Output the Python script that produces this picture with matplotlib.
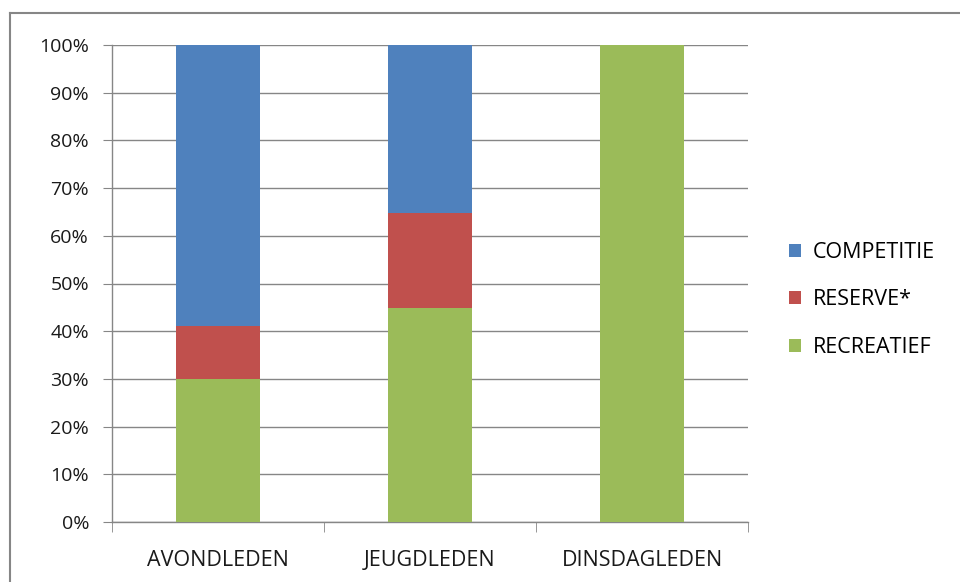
import matplotlib
matplotlib.use('Agg')
import matplotlib.pyplot as plt
import numpy as np
from matplotlib.lines import Line2D

categories = ['AVONDLEDEN', 'JEUGDLEDEN', 'DINSDAGLEDEN']
recreatief = [30.0, 44.8, 100.0]
reserve = [11.0, 19.9, 0.0]
competitie = [59.0, 35.3, 0.0]
yticks = [0, 10, 20, 30, 40, 50, 60, 70, 80, 90, 100]

plt.rcParams['font.family'] = ['Open Sans', 'DejaVu Sans']

fig = plt.figure(figsize=(9.6, 5.82), dpi=100)
ax = fig.add_axes([112 / 960, 1 - 522 / 582, (748 - 112) / 960, (522 - 45) / 582])

x = np.arange(len(categories))
w = 0.4
rec = np.array(recreatief)
res = np.array(reserve)
com = np.array(competitie)
ax.bar(x, rec, w, color='#9BBB59', label='RECREATIEF', zorder=3)
ax.bar(x, res, w, bottom=rec, color='#C0504D', label='RESERVE*', zorder=3)
ax.bar(x, com, w, bottom=rec + res, color='#4F81BD', label='COMPETITIE', zorder=3)

fs = 15.5
ax.set_xlim(-0.5, 2.5)
ax.set_ylim(0, 100)
ax.set_yticks(yticks)
ax.set_yticklabels([f'{v}%' for v in yticks], fontsize=14, color='#1a1a1a')
ax.set_xticks(x)
ax.set_xticklabels(categories, fontsize=fs, color='#1a1a1a')
ax.tick_params(axis='x', length=0, pad=20)
ax.set_xticks([-0.5, 0.5, 1.5, 2.5], minor=True)
ax.tick_params(axis='x', which='minor', length=7, color='#868686', direction='out')
ax.tick_params(axis='y', length=6.5, color='#868686', direction='out', pad=10)
ax.grid(axis='y', color='#868686', linewidth=1, zorder=0)
for s in ['top', 'right']:
    ax.spines[s].set_visible(False)
for s in ['left', 'bottom']:
    ax.spines[s].set_color('#868686')
    ax.spines[s].set_linewidth(1)

handles, labels = ax.get_legend_handles_labels()
leg = ax.legend(handles[::-1], labels[::-1], loc='center left', bbox_to_anchor=(789 / 960, 1 - 300 / 582),
                bbox_transform=fig.transFigure, frameon=False, fontsize=fs,
                handlelength=0.55, handleheight=0.55, handletextpad=0.55, labelspacing=1.23,
                borderpad=0, borderaxespad=0)

fig.add_artist(Line2D([10 / 960, 1], [1 - 13 / 582, 1 - 13 / 582], transform=fig.transFigure,
                      color='#868686', linewidth=1.5))
fig.add_artist(Line2D([10 / 960, 10 / 960], [0, 1 - 13 / 582], transform=fig.transFigure,
                      color='#868686', linewidth=1.5))

fig.savefig('out.png', dpi=100)
